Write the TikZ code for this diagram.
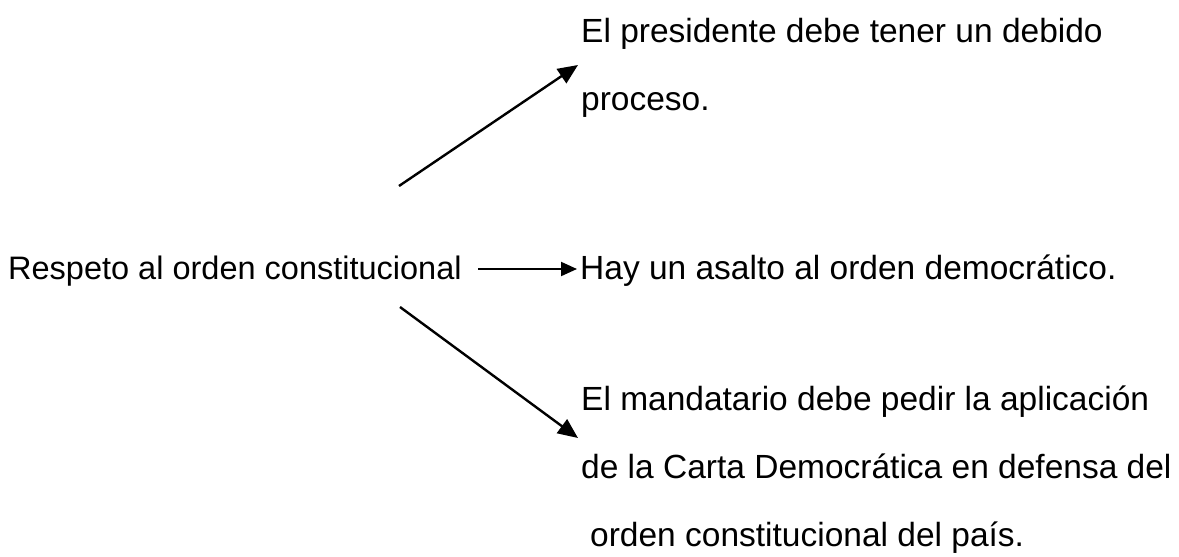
\documentclass[tikz,border=0pt]{standalone}
\usepackage{fontspec}
\setmainfont{Liberation Sans}
\usetikzlibrary{arrows.meta}
\newcommand{\fsz}[1]{\fontsize{#1}{40}\selectfont}
\begin{document}
\begin{tikzpicture}[x=1pt,y=-1pt,
  txtl/.style={anchor=base west,inner sep=0pt,font=\fsz{32.5}},
  txt/.style={anchor=base west,inner sep=0pt,font=\fsz{33.5}},
  arr/.style={line width=2.4pt,-{Triangle[length=20pt,width=17pt]}},
  arrm/.style={line width=2pt,-{Triangle[length=16pt,width=14pt]}}]
\useasboundingbox (0,0) rectangle (1179,557);
% texts
\node[txtl] (src) at (8,279) {Respeto al orden constitucional};
\node[txt] (mid) at (580,279) {Hay un asalto al orden democrático.};
\node[txt] (t1) at (581,42) {El presidente debe tener un debido};
\node[txt] (t2) at (581,110) {proceso.};
\node[txt] (b1) at (581,410) {El mandatario debe pedir la aplicación};
\node[txt] (b2) at (581,478) {de la Carta Democrática en defensa del};
\node[txt] (b3) at (590,546) {orden constitucional del país.};
% arrow ends
\coordinate (us) at (399,186);
\coordinate (ue) at (578,65);
\coordinate (ms) at (478,269);
\coordinate (me) at (577,269);
\coordinate (ls) at (400,307);
\coordinate (le) at (578,438);
\draw[arr] (us) -- (ue);
\draw[arrm] (ms) -- (me);
\draw[arr] (ls) -- (le);
\end{tikzpicture}
\end{document}
